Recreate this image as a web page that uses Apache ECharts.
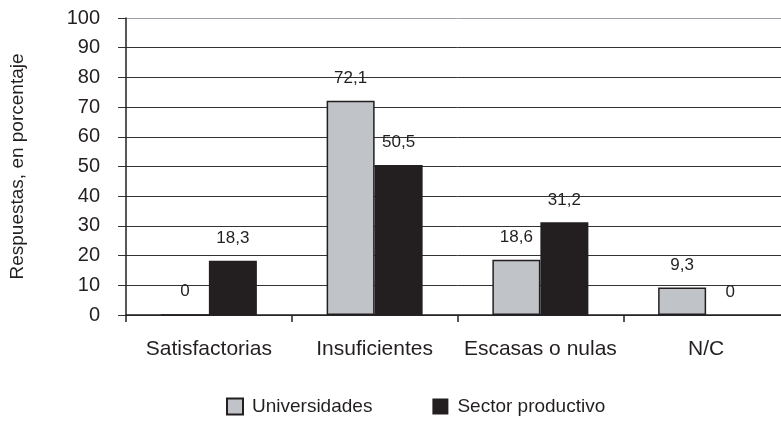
<!DOCTYPE html>
<html>
<head>
<meta charset="utf-8">
<script src="https://cdn.jsdelivr.net/npm/echarts@6/dist/echarts.min.js"></script>
<style>html,body{margin:0;padding:0;background:#fff;overflow:hidden}#c{width:790px;height:422px}</style>
</head>
<body>
<div id="c"></div>
<script>
var categories = ['Satisfactorias', 'Insuficientes', 'Escasas o nulas', 'N/C'];
var universidades = [0, 72.1, 18.6, 9.3];
var sectorProductivo = [18.3, 50.5, 31.2, 0];
var seriesNames = ['Universidades', 'Sector productivo'];
var yAxisName = 'Respuestas, en porcentaje';

var FONT = '"Liberation Sans", Arial, sans-serif';
var INK = '#231f20';
function fmt(p) { return String(p.value).replace('.', ','); }

var chart = echarts.init(document.getElementById('c'), null, {renderer: 'canvas'});
chart.setOption({
  animation: false,
  textStyle: {fontFamily: FONT},
  grid: {left: 121, width: 668, top: 18, bottom: 107, containLabel: false},
  legend: {
    data: seriesNames,
    left: 226, top: 397, padding: 0,
    icon: 'rect',
    itemWidth: 16, itemHeight: 16, itemGap: 60,
    textStyle: {fontSize: 19, color: INK, fontFamily: FONT, padding: [0, 0, 0, 4]}
  },
  xAxis: {
    type: 'category',
    data: categories,
    axisLine: {lineStyle: {color: INK, width: 1.5}},
    axisTick: {show: true, length: 7, lineStyle: {color: INK, width: 1.5}},
    axisLabel: {fontSize: 21, color: INK, margin: 24, fontFamily: FONT, interval: 0},
    splitLine: {show: false}
  },
  yAxis: {
    type: 'value',
    min: 0, max: 100, interval: 10,
    name: yAxisName,
    nameLocation: 'middle',
    nameGap: 99,
    nameRotate: 90,
    nameTextStyle: {fontSize: 19, color: INK, fontFamily: FONT},
    axisLine: {show: true, lineStyle: {color: INK, width: 1.5}},
    axisTick: {show: true, length: 8, lineStyle: {color: '#333', width: 1}},
    axisLabel: {fontSize: 20, color: INK, margin: 26, fontFamily: FONT},
    splitLine: {show: true, lineStyle: {color: ['#333', '#333', '#333', '#333', '#333', '#333', '#333', '#333', '#333', '#333', '#9aa0a6'], width: 1}}
  },
  series: [
    {
      name: seriesNames[0], type: 'bar', data: universidades,
      barWidth: 48, barGap: '0%',
      itemStyle: {color: '#c0c3c8', borderColor: INK, borderWidth: 1.5},
      label: {show: true, position: 'top', distance: 14, fontSize: 17, color: INK, fontFamily: FONT, formatter: fmt}
    },
    {
      name: seriesNames[1], type: 'bar', data: sectorProductivo,
      barWidth: 48, barGap: '0%',
      itemStyle: {color: INK},
      label: {show: true, position: 'top', distance: 14, fontSize: 17, color: INK, fontFamily: FONT, formatter: fmt}
    }
  ]
});
</script>
</body>
</html>
